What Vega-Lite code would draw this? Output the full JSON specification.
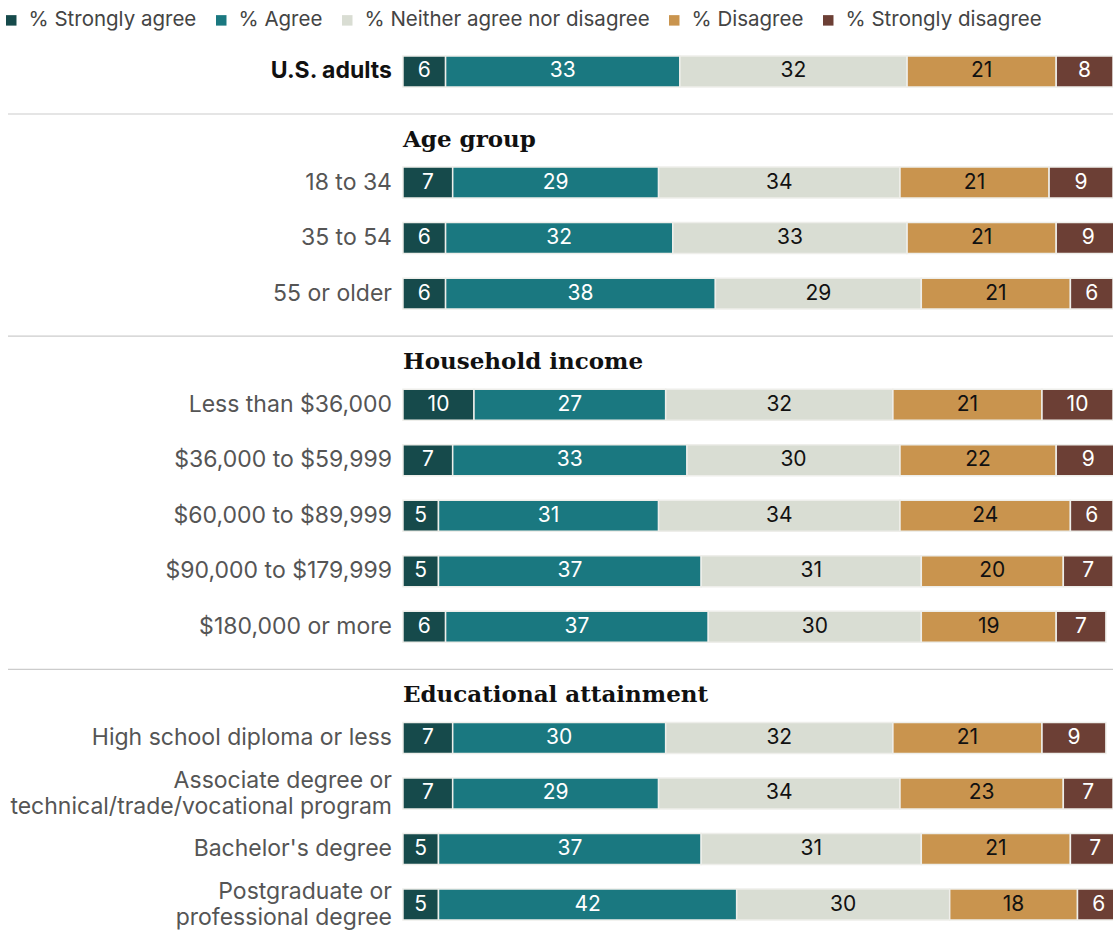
{
  "$schema": "https://vega.github.io/schema/vega-lite/v6.json",
  "width": 1105,
  "height": 896,
  "autosize": "none",
  "padding": {"left": 8, "top": 40, "right": 0, "bottom": 0},
  "background": "white",
  "config": {"view": {"stroke": null}},
  "datasets": {
    "seg": [
      {"row": "U.S. adults", "resp": "% Strongly agree", "k": 1, "value": 6},
      {"row": "U.S. adults", "resp": "% Agree", "k": 2, "value": 33},
      {"row": "U.S. adults", "resp": "% Neither agree nor disagree", "k": 3, "value": 32},
      {"row": "U.S. adults", "resp": "% Disagree", "k": 4, "value": 21},
      {"row": "U.S. adults", "resp": "% Strongly disagree", "k": 5, "value": 8},
      {"row": "18 to 34", "resp": "% Strongly agree", "k": 1, "value": 7},
      {"row": "18 to 34", "resp": "% Agree", "k": 2, "value": 29},
      {"row": "18 to 34", "resp": "% Neither agree nor disagree", "k": 3, "value": 34},
      {"row": "18 to 34", "resp": "% Disagree", "k": 4, "value": 21},
      {"row": "18 to 34", "resp": "% Strongly disagree", "k": 5, "value": 9},
      {"row": "35 to 54", "resp": "% Strongly agree", "k": 1, "value": 6},
      {"row": "35 to 54", "resp": "% Agree", "k": 2, "value": 32},
      {"row": "35 to 54", "resp": "% Neither agree nor disagree", "k": 3, "value": 33},
      {"row": "35 to 54", "resp": "% Disagree", "k": 4, "value": 21},
      {"row": "35 to 54", "resp": "% Strongly disagree", "k": 5, "value": 9},
      {"row": "55 or older", "resp": "% Strongly agree", "k": 1, "value": 6},
      {"row": "55 or older", "resp": "% Agree", "k": 2, "value": 38},
      {"row": "55 or older", "resp": "% Neither agree nor disagree", "k": 3, "value": 29},
      {"row": "55 or older", "resp": "% Disagree", "k": 4, "value": 21},
      {"row": "55 or older", "resp": "% Strongly disagree", "k": 5, "value": 6},
      {"row": "Less than $36,000", "resp": "% Strongly agree", "k": 1, "value": 10},
      {"row": "Less than $36,000", "resp": "% Agree", "k": 2, "value": 27},
      {"row": "Less than $36,000", "resp": "% Neither agree nor disagree", "k": 3, "value": 32},
      {"row": "Less than $36,000", "resp": "% Disagree", "k": 4, "value": 21},
      {"row": "Less than $36,000", "resp": "% Strongly disagree", "k": 5, "value": 10},
      {"row": "$36,000 to $59,999", "resp": "% Strongly agree", "k": 1, "value": 7},
      {"row": "$36,000 to $59,999", "resp": "% Agree", "k": 2, "value": 33},
      {"row": "$36,000 to $59,999", "resp": "% Neither agree nor disagree", "k": 3, "value": 30},
      {"row": "$36,000 to $59,999", "resp": "% Disagree", "k": 4, "value": 22},
      {"row": "$36,000 to $59,999", "resp": "% Strongly disagree", "k": 5, "value": 9},
      {"row": "$60,000 to $89,999", "resp": "% Strongly agree", "k": 1, "value": 5},
      {"row": "$60,000 to $89,999", "resp": "% Agree", "k": 2, "value": 31},
      {"row": "$60,000 to $89,999", "resp": "% Neither agree nor disagree", "k": 3, "value": 34},
      {"row": "$60,000 to $89,999", "resp": "% Disagree", "k": 4, "value": 24},
      {"row": "$60,000 to $89,999", "resp": "% Strongly disagree", "k": 5, "value": 6},
      {"row": "$90,000 to $179,999", "resp": "% Strongly agree", "k": 1, "value": 5},
      {"row": "$90,000 to $179,999", "resp": "% Agree", "k": 2, "value": 37},
      {"row": "$90,000 to $179,999", "resp": "% Neither agree nor disagree", "k": 3, "value": 31},
      {"row": "$90,000 to $179,999", "resp": "% Disagree", "k": 4, "value": 20},
      {"row": "$90,000 to $179,999", "resp": "% Strongly disagree", "k": 5, "value": 7},
      {"row": "$180,000 or more", "resp": "% Strongly agree", "k": 1, "value": 6},
      {"row": "$180,000 or more", "resp": "% Agree", "k": 2, "value": 37},
      {"row": "$180,000 or more", "resp": "% Neither agree nor disagree", "k": 3, "value": 30},
      {"row": "$180,000 or more", "resp": "% Disagree", "k": 4, "value": 19},
      {"row": "$180,000 or more", "resp": "% Strongly disagree", "k": 5, "value": 7},
      {"row": "High school diploma or less", "resp": "% Strongly agree", "k": 1, "value": 7},
      {"row": "High school diploma or less", "resp": "% Agree", "k": 2, "value": 30},
      {"row": "High school diploma or less", "resp": "% Neither agree nor disagree", "k": 3, "value": 32},
      {"row": "High school diploma or less", "resp": "% Disagree", "k": 4, "value": 21},
      {"row": "High school diploma or less", "resp": "% Strongly disagree", "k": 5, "value": 9},
      {"row": "Associate degree or\ntechnical/trade/vocational program", "resp": "% Strongly agree", "k": 1, "value": 7},
      {"row": "Associate degree or\ntechnical/trade/vocational program", "resp": "% Agree", "k": 2, "value": 29},
      {"row": "Associate degree or\ntechnical/trade/vocational program", "resp": "% Neither agree nor disagree", "k": 3, "value": 34},
      {"row": "Associate degree or\ntechnical/trade/vocational program", "resp": "% Disagree", "k": 4, "value": 23},
      {"row": "Associate degree or\ntechnical/trade/vocational program", "resp": "% Strongly disagree", "k": 5, "value": 7},
      {"row": "Bachelor's degree", "resp": "% Strongly agree", "k": 1, "value": 5},
      {"row": "Bachelor's degree", "resp": "% Agree", "k": 2, "value": 37},
      {"row": "Bachelor's degree", "resp": "% Neither agree nor disagree", "k": 3, "value": 31},
      {"row": "Bachelor's degree", "resp": "% Disagree", "k": 4, "value": 21},
      {"row": "Bachelor's degree", "resp": "% Strongly disagree", "k": 5, "value": 7},
      {"row": "Postgraduate or\nprofessional degree", "resp": "% Strongly agree", "k": 1, "value": 5},
      {"row": "Postgraduate or\nprofessional degree", "resp": "% Agree", "k": 2, "value": 42},
      {"row": "Postgraduate or\nprofessional degree", "resp": "% Neither agree nor disagree", "k": 3, "value": 30},
      {"row": "Postgraduate or\nprofessional degree", "resp": "% Disagree", "k": 4, "value": 18},
      {"row": "Postgraduate or\nprofessional degree", "resp": "% Strongly disagree", "k": 5, "value": 6}
    ],
    "rows": [
      {"row": "U.S. adults"},
      {"row": "18 to 34"},
      {"row": "35 to 54"},
      {"row": "55 or older"},
      {"row": "Less than $36,000"},
      {"row": "$36,000 to $59,999"},
      {"row": "$60,000 to $89,999"},
      {"row": "$90,000 to $179,999"},
      {"row": "$180,000 or more"},
      {"row": "High school diploma or less"},
      {"row": "Associate degree or\ntechnical/trade/vocational program"},
      {"row": "Bachelor's degree"},
      {"row": "Postgraduate or\nprofessional degree"}
    ],
    "heads": [
      {"row": "Age group"},
      {"row": "Household income"},
      {"row": "Educational attainment"}
    ]
  },
  "encoding": {
    "y": {
      "field": "row",
      "type": "nominal",
      "sort": null,
      "axis": null,
      "scale": {
        "domain": [
          "U.S. adults", "Age group", "18 to 34", "35 to 54", "55 or older",
          "Household income", "Less than $36,000", "$36,000 to $59,999", "$60,000 to $89,999", "$90,000 to $179,999", "$180,000 or more",
          "Educational attainment", "High school diploma or less", "Associate degree or\ntechnical/trade/vocational program", "Bachelor's degree", "Postgraduate or\nprofessional degree"
        ],
        "paddingInner": 0.442,
        "paddingOuter": 0.288
      }
    }
  },
  "layer": [
    {
      "data": {"name": "heads"},
      "mark": {"type": "rule", "color": "#cccccc", "strokeWidth": 1.2, "yOffset": -13}
    },
    {
      "data": {"name": "seg"},
      "mark": {"type": "bar", "stroke": "#eeeeea", "strokeWidth": 1.5},
      "encoding": {
        "x": {
          "field": "value",
          "type": "quantitative",
          "stack": "zero",
          "axis": null,
          "scale": {"domain": [-55.63, 100], "nice": false, "zero": false}
        },
        "order": {"field": "k", "type": "quantitative"},
        "color": {
          "field": "resp",
          "type": "nominal",
          "sort": null,
          "scale": {
            "domain": ["% Strongly agree", "% Agree", "% Neither agree nor disagree", "% Disagree", "% Strongly disagree"],
            "range": ["#164a4b", "#1a7880", "#d9ddd3", "#c9944e", "#6c3f35"]
          },
          "legend": {
            "title": null,
            "orient": "none",
            "legendX": -7,
            "legendY": -30,
            "direction": "horizontal",
            "columns": 5,
            "padding": 0,
            "symbolType": "square",
            "symbolSize": 110,
            "symbolStrokeWidth": 0,
            "symbolOpacity": 1,
            "labelFont": "Inter",
            "labelFontSize": 20.5,
            "labelColor": "#444444",
            "labelOffset": 7,
            "labelLimit": 400,
            "columnPadding": 14
          }
        }
      }
    },
    {
      "data": {"name": "seg"},
      "mark": {"type": "text", "font": "Inter", "fontSize": 21, "baseline": "middle", "align": "center"},
      "encoding": {
        "x": {"field": "value", "type": "quantitative", "stack": "zero", "bandPosition": 0.5},
        "order": {"field": "k", "type": "quantitative"},
        "text": {"field": "value", "type": "quantitative"},
        "color": {
          "condition": {"test": "datum.resp === '% Neither agree nor disagree' || datum.resp === '% Disagree'", "value": "#111111"},
          "value": "#ffffff"
        }
      }
    },
    {
      "data": {"name": "rows"},
      "transform": [{"filter": "datum.row === 'U.S. adults'"}],
      "mark": {"type": "text", "font": "Inter", "fontSize": 23, "fontWeight": "bold", "align": "right", "baseline": "middle", "dx": -11, "color": "#111111"},
      "encoding": {
        "x": {"datum": 0},
        "text": {"field": "row", "type": "nominal"}
      }
    },
    {
      "data": {"name": "rows"},
      "transform": [{"filter": "datum.row !== 'U.S. adults' && indexof(datum.row, '\\n') < 0"}],
      "mark": {"type": "text", "font": "Inter", "fontSize": 23, "align": "right", "baseline": "middle", "dx": -11, "color": "#555555"},
      "encoding": {
        "x": {"datum": 0},
        "text": {"field": "row", "type": "nominal"}
      }
    },
    {
      "data": {"name": "rows"},
      "transform": [{"filter": "indexof(datum.row, '\\n') >= 0"}],
      "mark": {"type": "text", "font": "Inter", "fontSize": 23, "align": "right", "baseline": "middle", "dx": -11, "dy": -12.5, "lineBreak": "\n", "lineHeight": 26, "color": "#555555"},
      "encoding": {
        "x": {"datum": 0},
        "text": {"field": "row", "type": "nominal"}
      }
    },
    {
      "data": {"name": "heads"},
      "mark": {"type": "text", "font": "DejaVu Serif", "fontWeight": "bold", "fontSize": 23, "align": "left", "baseline": "alphabetic", "dy": 20, "color": "#111111"},
      "encoding": {
        "x": {"datum": 0},
        "text": {"field": "row", "type": "nominal"}
      }
    }
  ]
}
